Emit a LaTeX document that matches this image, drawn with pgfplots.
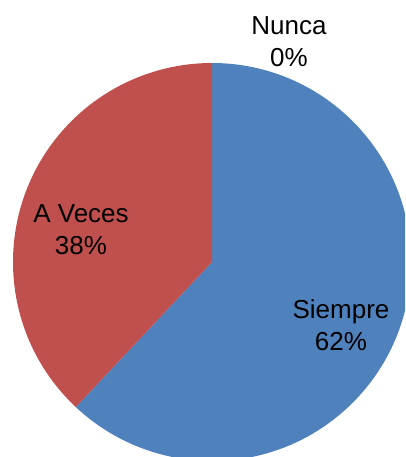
\documentclass[border=0pt]{standalone}
\usepackage{pgfplots}
\pgfplotsset{compat=1.18}
\usepackage{fontspec}
\setmainfont{Liberation Sans}
\definecolor{siempre}{RGB}{79,129,189}
\definecolor{aveces}{RGB}{192,80,77}

% shares in percent, clockwise from twelve o'clock
\def\vSiempre{62}
\def\vAVeces{38}
\def\vNunca{0}

\begin{document}
\begin{tikzpicture}
\useasboundingbox (0,0) rectangle (405pt,457pt);
\clip (0,0) rectangle (405pt,457pt);
\begin{axis}[
    at={(0,0)}, anchor=south west,
    scale only axis,
    width=405pt, height=457pt,
    xmin=0, xmax=405, ymin=0, ymax=457,
    hide axis,
    clip=false,
]
\pgfmathsetmacro\aS{90-3.6*\vSiempre}
\pgfmathsetmacro\aA{\aS-3.6*\vAVeces}
\fill[siempre] (axis cs:212,195) -- ++(90:199pt)
    arc[start angle=90, end angle=\aS, radius=199pt] -- cycle;
\fill[aveces] (axis cs:212,195) -- ++(\aS:199pt)
    arc[start angle=\aS, end angle=\aA, radius=199pt] -- cycle;

\begin{scope}[every node/.style={anchor=base, inner sep=0pt,
    font=\fontsize{26}{31}\selectfont}]
\node at (axis cs:289,422) {Nunca};
\node at (axis cs:289,390) {\vNunca\%};
\node at (axis cs:81,234) {A Veces};
\node at (axis cs:81,202) {\vAVeces\%};
\node at (axis cs:341,138) {Siempre};
\node at (axis cs:341,106) {\vSiempre\%};
\end{scope}
\end{axis}
\end{tikzpicture}
\end{document}
